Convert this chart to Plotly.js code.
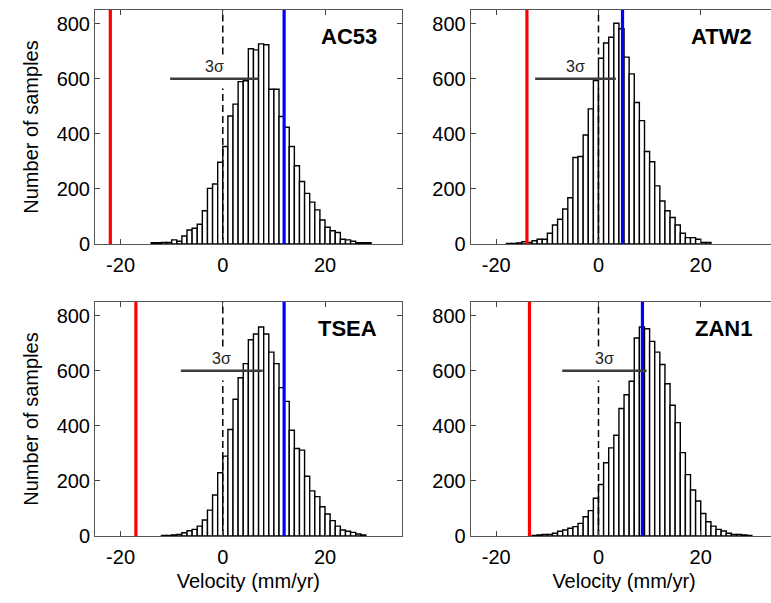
<!DOCTYPE html>
<html>
<head>
<meta charset="utf-8">
<script src="https://cdn.plot.ly/plotly-3.0.1.min.js"></script>
<style>
html,body{margin:0;padding:0;overflow:hidden;background:#fff;width:771px;height:603px;}
#chart{width:780px;height:603px;}
</style>
</head>
<body>
<div id="chart"></div>
<script>
// ---- data ----
const stations = ['AC53', 'ATW2', 'TSEA', 'ZAN1'];
// lowest bin edge of each histogram (bins are 1 mm/yr wide)
const binStart = [-14, -18, -12, -13];
const binWidth = 1;
const countsAC53 = [5,5,6,6,15,10,29,51,57,72,121,202,218,297,354,465,508,590,593,709,705,727,724,562,562,463,424,354,284,227,184,152,124,87,61,48,42,17,15,10,5,5,5];
const countsATW2 = [2,2,4,8,6,12,17,17,39,69,90,127,168,314,318,396,491,594,675,730,751,802,782,679,618,514,448,336,299,211,156,121,96,69,39,23,23,17,6,6];
const countsTSEA = [2,2,4,6,12,19,24,36,58,94,149,230,290,387,497,575,626,713,734,759,734,668,626,539,489,384,318,312,217,164,143,106,80,56,36,22,17,13,7,4];
const countsZAN1 = [2,4,6,6,10,17,22,28,34,46,70,92,137,187,266,320,366,463,513,562,719,759,753,707,668,623,553,475,412,303,223,167,127,82,52,36,24,18,10,6,6,4,2];
const counts = [countsAC53, countsATW2, countsTSEA, countsZAN1];
const redLine = [-22, -14, -17, -13.5];
const blueLine = [12, 4.7, 12, 8.6];
const sigmaStart = [-10.3, -12.4, -8.2, -7.1];
const sigmaEnd = [7.0, 3.4, 7.8, 9.4];
const sigmaLevel = 600;
const dashGap = [565, 688];
const xTicks = [-20, 0, 20];
const yTicks = [0, 200, 400, 600, 800];
const xRange = [-25, 35];
const yRange = [0, 850];

// ---- layout geometry ----
const W = 780, H = 603;
const xDom = [[95/W, 401.7/W], [470.7/W, 777.4/W], [95/W, 401.7/W], [470.7/W, 777.4/W]];
const yDom = [[359/H, 593/H], [359/H, 593/H], [67/H, 301/H], [67/H, 301/H]];
const FONT = 'Liberation Sans, Arial, Helvetica, sans-serif';

const traces = [];
const layout = {
  width: W, height: H,
  margin: {l: 0, r: 0, t: 0, b: 0},
  paper_bgcolor: '#fff', plot_bgcolor: '#fff',
  showlegend: false, bargap: 0,
  font: {family: FONT, color: '#000', size: 20},
  annotations: []
};

for (let k = 0; k < 4; k++) {
  const sx = k === 0 ? '' : String(k + 1);
  const xa = 'x' + sx, ya = 'y' + sx;
  // dashed zero line (behind bars), broken around the 3σ label
  traces.push({type: 'scatter', mode: 'lines', xaxis: xa, yaxis: ya,
    x: [0, 0, null, 0, 0], y: [yRange[0], dashGap[0], null, dashGap[1], yRange[1]],
    line: {color: '#000', width: 1.5, dash: '7px,4px'}, hoverinfo: 'skip', connectgaps: false});
  // histogram
  const xs = counts[k].map((_, i) => binStart[k] + (i + 0.5) * binWidth);
  traces.push({type: 'bar', xaxis: xa, yaxis: ya, x: xs, y: counts[k], width: binWidth,
    marker: {color: '#fff', line: {color: '#000', width: 1.4}}});
  // red and blue lines
  traces.push({type: 'scatter', mode: 'lines', xaxis: xa, yaxis: ya,
    x: [redLine[k], redLine[k]], y: yRange, line: {color: '#ff0000', width: 3.2}});
  traces.push({type: 'scatter', mode: 'lines', xaxis: xa, yaxis: ya,
    x: [blueLine[k], blueLine[k]], y: yRange, line: {color: '#0000ff', width: 3.2}});
  // 3σ segment
  traces.push({type: 'scatter', mode: 'lines', xaxis: xa, yaxis: ya,
    x: [sigmaStart[k], sigmaEnd[k]], y: [sigmaLevel, sigmaLevel], line: {color: '#3c3c3c', width: 2.6}});

  const axName = k === 0 ? '' : String(k + 1);
  layout['xaxis' + axName] = {
    domain: xDom[k], range: xRange, anchor: ya, tickvals: xTicks, ticktext: xTicks.map(String),
    ticks: 'inside', ticklen: 5, tickcolor: '#444', mirror: 'ticks', showline: true,
    linecolor: '#555', linewidth: 1, showgrid: false, zeroline: false, fixedrange: true,
    ticklabelstandoff: 3,
    tickfont: {size: 20, family: FONT, color: '#000'},
    title: k >= 2 ? {text: 'Velocity (mm/yr)', font: {size: 20, family: FONT, color: '#000'}, standoff: 6} : {text: ''}
  };
  layout['yaxis' + axName] = {
    domain: yDom[k], range: yRange, anchor: xa, tickvals: yTicks, ticktext: yTicks.map(String),
    ticks: 'inside', ticklen: 5, tickcolor: '#444', mirror: 'ticks', showline: true,
    linecolor: '#555', linewidth: 1, showgrid: false, zeroline: false, fixedrange: true,
    tickfont: {size: 20, family: FONT, color: '#000'},
    title: (k % 2 === 0) ? {text: 'Number of samples', font: {size: 20, family: FONT, color: '#000'}, standoff: 12} : {text: ''}
  };
  layout.annotations.push({xref: xa, yref: ya, x: 30.5, y: 752, xanchor: 'right', yanchor: 'middle',
    text: '<b>' + stations[k] + '</b>', showarrow: false, font: {size: 22, family: FONT, color: '#000'}});
  layout.annotations.push({xref: xa, yref: ya, x: (sigmaStart[k] + sigmaEnd[k]) / 2, y: 643,
    xanchor: 'center', yanchor: 'middle', text: '3σ', showarrow: false,
    font: {size: 16, family: FONT, color: '#222'}});
}

Plotly.newPlot('chart', traces, layout, {staticPlot: true, displayModeBar: false});
</script>
</body>
</html>
